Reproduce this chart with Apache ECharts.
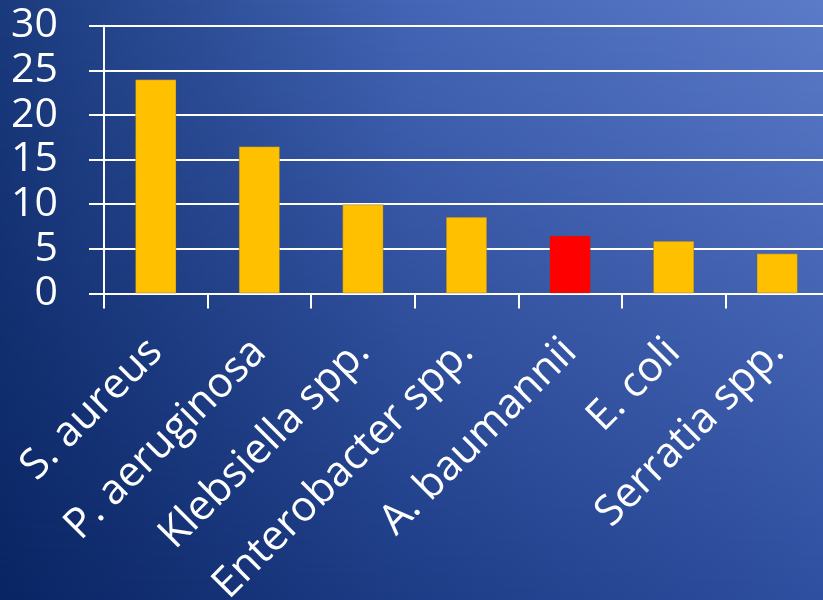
<!DOCTYPE html>
<html>
<head>
<meta charset="utf-8">
<script src="https://cdn.jsdelivr.net/npm/echarts@6/dist/echarts.min.js"></script>
<style>
  html, body { margin: 0; padding: 0; }
  #wrap {
    position: relative;
    width: 823px; height: 600px;
    overflow: hidden;
    background: linear-gradient(to right, #0a2563 0%, #1e3d87 50%, #2f4fa0 100%);
  }
  /* lighter upper tones blended in from top to bottom */
  #wrap::before {
    content: '';
    position: absolute; inset: 0;
    background: linear-gradient(to right, #1a3a7d 0%, #4465b5 50%, #5b7bc8 100%);
    -webkit-mask-image: linear-gradient(to bottom, #000 0%, rgba(0,0,0,0) 100%);
    mask-image: linear-gradient(to bottom, #000 0%, rgba(0,0,0,0) 100%);
  }
  #chart {
    position: absolute; left: 0; top: 0;
    width: 823px; height: 600px;
  }
</style>
</head>
<body>
<div id="wrap"><div id="chart"></div></div>
<script>
// Pathogens and their share (%)
const categories = ['S. aureus', 'P. aeruginosa', 'Klebsiella spp.', 'Enterobacter spp.', 'A. baumannii', 'E. coli', 'Serratia spp.'];
const values = [24, 16.5, 10, 8.6, 6.5, 5.9, 4.5];
const highlighted = 'A. baumannii';
const yTicks = { min: 0, max: 30, interval: 5 };

const chart = echarts.init(document.getElementById('chart'), null, { renderer: 'canvas' });
const font = '"Open Sans", "Noto Sans", sans-serif';

chart.setOption({
  backgroundColor: 'transparent',
  animation: false,
  grid: {
    left: 104, right: -6, top: 25.7, bottom: 306.5,
    containLabel: false, outerBoundsMode: 'none'
  },
  xAxis: {
    type: 'category',
    data: categories,
    boundaryGap: true,
    axisLine: { show: true, lineStyle: { color: '#ffffff', width: 2 } },
    axisTick: { show: true, length: 15, alignWithLabel: false, lineStyle: { color: '#ffffff', width: 2 } },
    axisLabel: {
      interval: 0, rotate: 45, margin: 52, hideOverlap: false,
      color: '#ffffff', fontSize: 42, fontFamily: font
    },
    splitLine: { show: false }
  },
  yAxis: {
    type: 'value',
    min: yTicks.min, max: yTicks.max, interval: yTicks.interval,
    axisLine: { show: true, lineStyle: { color: '#ffffff', width: 2 } },
    axisTick: { show: true, length: 15, lineStyle: { color: '#ffffff', width: 2 } },
    axisLabel: { margin: 46, color: '#ffffff', fontSize: 41, fontFamily: font },
    splitLine: { show: true, lineStyle: { color: '#ffffff', width: 2 } }
  },
  series: [{
    type: 'bar',
    barWidth: '40%',
    data: values.map((v, i) => ({
      value: v,
      itemStyle: { color: categories[i] === highlighted ? '#ff0000' : '#ffc000' }
    })),
    itemStyle: { borderColor: 'rgba(90,90,90,0.35)', borderWidth: 1 }
  }]
});
</script>
</body>
</html>
